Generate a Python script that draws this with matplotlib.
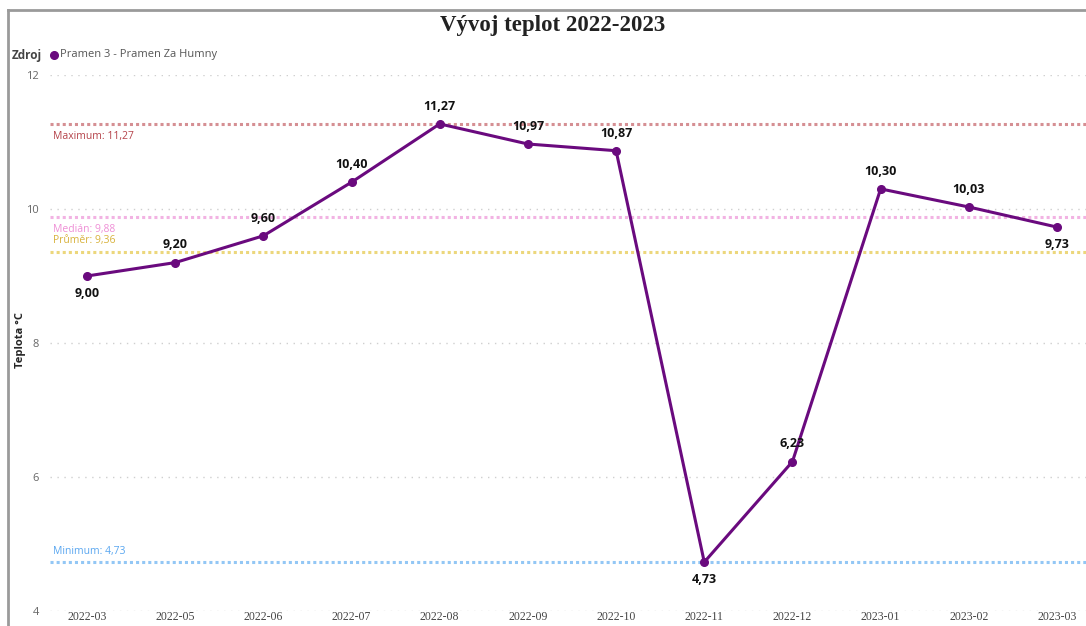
import matplotlib.pyplot as plt
from matplotlib.lines import Line2D

months = ['2022-03', '2022-05', '2022-06', '2022-07', '2022-08', '2022-09',
          '2022-10', '2022-11', '2022-12', '2023-01', '2023-02', '2023-03']
teploty = [9.00, 9.20, 9.60, 10.40, 11.27, 10.97, 10.87, 4.73, 6.23, 10.30, 10.03, 9.73]
label_below = [True, False, False, False, False, False, False, True, False, False, False, True]

ref_names = ['Maximum', 'Medián', 'Průměr', 'Minimum']
ref_values = [11.27, 9.88, 9.36, 4.73]
ref_line_colors = ['#d58f93', '#f2b3e3', '#ecd77c', '#93c7f5']
ref_text_colors = ['#b5434a', '#ef8fd6', '#d8b23c', '#5aa7f0']
ref_text_below = [True, True, False, False]

LINE_COLOR = '#6a0a7e'

def cz(v):
    return f"{v:.2f}".replace('.', ',')

plt.rcParams['font.family'] = ['Open Sans', 'DejaVu Sans']

fig = plt.figure(figsize=(10.86, 6.26), dpi=100)
ax = fig.add_axes([50 / 1086, 15 / 626, 1 - 50 / 1086, (611 - 75) / 626])

x = list(range(len(months)))

# grid
for gy in [4, 6, 8, 10, 12]:
    ax.axhline(gy, color='#cfcfcf', linestyle=(0, (1, 4)), linewidth=1, zorder=0)

# reference lines
for name, val, lc, tc, below in zip(ref_names, ref_values, ref_line_colors, ref_text_colors, ref_text_below):
    ax.axhline(val, color=lc, linestyle=(0, (1, 1)), linewidth=2.2, zorder=1)
    if below:
        ax.annotate(f"{name}: {cz(val)}", xy=(0, val), xycoords=('axes fraction', 'data'),
                    xytext=(2, -5), textcoords='offset points', ha='left', va='top',
                    fontsize=7.5, color=tc)
    else:
        ax.annotate(f"{name}: {cz(val)}", xy=(0, val), xycoords=('axes fraction', 'data'),
                    xytext=(2, 4), textcoords='offset points', ha='left', va='bottom',
                    fontsize=7.5, color=tc)

ax.plot(x, teploty, color=LINE_COLOR, linewidth=2.2, marker='o', markersize=5.5, zorder=3)

for xi, v, below in zip(x, teploty, label_below):
    off = -8 if below else 8
    ax.annotate(cz(v), xy=(xi, v), xytext=(0, off), textcoords='offset points',
                ha='center', va='top' if below else 'bottom',
                fontsize=9, fontweight='bold', color='#111111')

ax.set_xlim(-37 / 88.2, 11 + 29 / 88.2)
ax.set_ylim(4, 12)
ax.set_xticks(x)
ax.set_xticklabels(months, fontfamily='Liberation Serif', fontsize=8.5, color='#444444')
ax.set_yticks([4, 6, 8, 10, 12])
ax.set_yticklabels(['4', '6', '8', '10', '12'], fontsize=8, color='#666666')
ax.tick_params(axis='both', length=0)
ax.tick_params(axis='x', pad=0)
ax.tick_params(axis='y', pad=8)
for s in ax.spines.values():
    s.set_visible(False)
ax.set_facecolor('none')

fig.text(20 / 1086, 1 - 340 / 626, 'Teplota °C', rotation=90, ha='center', va='center',
         fontsize=8, fontweight='bold', color='#252525')

fig.text(553 / 1086, 1 - 25 / 626, 'Vývoj teplot 2022-2023', ha='center', va='center',
         fontfamily='Liberation Serif', fontsize=16.5, fontweight='bold', color='#222222')

# legend
fig.text(12 / 1086, 1 - 55 / 626, 'Zdroj', ha='left', va='center', fontsize=8.5,
         fontweight='bold', color='#444444')
fig.add_artist(Line2D([54 / 1086], [1 - 55 / 626], marker='o', markersize=5.5,
                      color=LINE_COLOR, linestyle='none'))
fig.text(60 / 1086, 1 - 55 / 626, 'Pramen 3 - Pramen Za Humny', ha='left', va='center',
         fontsize=8, color='#555555')

# border
fig.add_artist(Line2D([8 / 1086, 1], [1 - 10 / 626, 1 - 10 / 626], color='#9a9a9a', linewidth=2))
fig.add_artist(Line2D([8 / 1086, 8 / 1086], [0, 1 - 10 / 626], color='#9a9a9a', linewidth=2))

fig.savefig('out.png', dpi=100)
